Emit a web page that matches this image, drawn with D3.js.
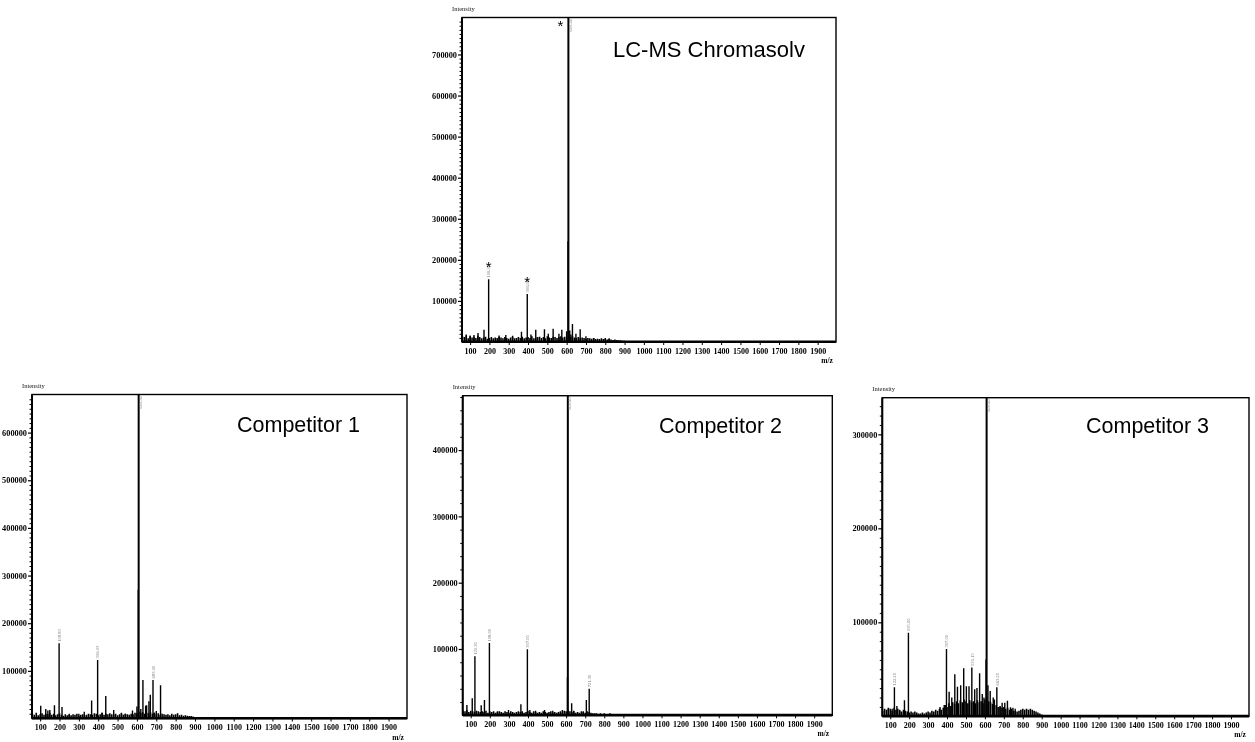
<!DOCTYPE html>
<html><head><meta charset="utf-8">
<script src="https://cdn.jsdelivr.net/npm/d3@7"></script>
<style>body{margin:0;background:#fff} #chart{filter:grayscale(1)}</style>
</head><body>
<svg id="chart" width="1255" height="742"></svg>
<script>
// ---------------- DATA ----------------
const mzDomain = [58, 1995];
const xTickValues = [100,200,300,400,500,600,700,800,900,1000,1100,1200,1300,1400,1500,1600,1700,1800,1900];
const noiseMz = d3.range(60, 901, 10); // sampling grid of the noise band

const titles = ["LC-MS Chromasolv", "Competitor 1", "Competitor 2", "Competitor 3"];
const yMaxes = [790000, 680000, 482000, 339000];
const yMajorTicks = [
  [100000,200000,300000,400000,500000,600000,700000],
  [100000,200000,300000,400000,500000,600000],
  [100000,200000,300000,400000],
  [100000,200000,300000]
];
const yMinorSteps = [10000, 10000, 20000, 10000];

// peaks: [m/z, intensity]
const chromasolvPeaks = [[609,800000],[607,245000],[196,153000],[396,117000],[630,44000],[616,28000],
  [440,30000],[485,31000],[530,32000],[575,30000],[670,31000],[366,25000],[141,22000],[172,30000],
  [285,17000],[600,26000],[622,18000],[648,20000],[700,14000],[560,20000],[505,20000],[415,18000],
  [80,18000],[100,16000],[120,17000],[250,16000],[320,15000],[740,10000],[800,10000],[820,9000]];
const competitor1Peaks = [[609,700000],[607,270000],[198,158000],[397,123000],[631,81000],[683,81000],
  [722,70000],[669,50000],[662,36000],[645,27000],[650,28000],[439,47000],[366,38000],[103,27000],
  [129,20000],[150,18000],[174,28000],[213,24000],[480,18000],[577,17000],[328,14000],[600,25000],
  [620,20000],[700,16000],[690,12000],[140,17000],[250,10000],[300,10000],[420,12000],[520,12000],[540,10000]];
const competitor2Peaks = [[609,500000],[607,57000],[122,89000],[198,109000],[397,99500],[721,40000],
  [706,23000],[108,25600],[80,15500],[172,23000],[155,15000],[363,16500],[298,8000],[629,18000],
  [487,8000],[440,7000],[530,7000],[580,8000],[640,7000],[690,6000],[410,8000],[240,6000]];
const competitor3Peaks = [[609,350000],[606,60500],[122,31000],[196,89000],[397,71500],[531,52000],
  [663,31000],[441,44700],[455,31500],[472,33000],[488,51000],[502,32000],[516,32000],[546,28700],
  [558,30000],[572,45700],[586,23700],[616,33000],[628,27000],[644,20000],[691,14500],[705,14500],
  [719,16500],[735,9500],[748,9000],[411,26000],[385,12000],[363,10000],[175,17000],[135,11000],
  [90,8000],[110,8000],[150,7000],[425,20000],[595,20000],[650,18000],[680,10000],[760,8000]];

// noise band heights (thousands) on the noiseMz grid 60..900
const chromasolvNoise = [15,12,16,9,14,11,13,10,15,12, 9,11,13,8,10,12,9,11,10,13, 11,9,12,10,8,11,13,9,10,12,
  10,13,9,11,12,10,14,9,11,12, 13,10,12,9,14,11,10,13,12,10, 12,14,11,13,10,15,12,14,11,10,
  12,9,11,10,8,10,9,8,10,7, 8,7,9,7,8,6,7,6,5,6, 5,4,4,3,3];
const competitor1Noise = [10,8,12,7,9,11,8,10,9,12, 8,10,7,9,11,8,6,9,7,8, 7,9,8,10,6,8,9,7,8,10,
  9,8,11,10,7,9,12,8,10,9, 11,9,8,10,7,9,11,8,10,9, 8,10,9,12,11,14,12,13,10,12,
  11,13,10,12,9,11,8,10,9,8, 9,7,10,8,9,11,7,8,6,7, 6,5,5,4,3];
const competitor2Noise = [7,6,8,5,7,6,5,7,6,5, 6,5,7,4,6,5,6,4,5,6, 5,4,6,5,4,6,5,4,5,6,
  5,6,4,5,7,5,4,6,5,4, 5,4,6,5,4,5,6,4,5,4, 5,6,4,7,6,8,6,5,6,4,
  5,4,6,5,4,6,5,4,3,3, 3,2,3,2,3,2,2,3,2,2, 2,2,2,2,2];
const competitor3Noise = [6,8,7,9,8,6,9,7,8,6, 5,7,6,5,4,5,4,5,4,3, 3,4,3,4,5,4,6,5,7,6,
  8,7,9,12,10,14,11,15,13,16, 14,17,15,18,16,14,17,15,16,14, 17,15,16,14,18,20,16,15,13,12,
  12,10,11,9,10,8,9,7,8,6, 6,5,6,7,8,7,8,7,8,7, 6,5,4,3,2];

// peak annotations: [m/z, text]
const chromasolvLabels = [[196,"196.90"],[396,"396.98"],[609,"609.40"]];
const competitor1Labels = [[198,"198.83"],[397,"396.93"],[683,"683.10"],[609,"609.40"]];
const competitor2Labels = [[122,"121.30"],[198,"198.00"],[397,"397.00"],[721,"721.30"],[609,"609.40"]];
const competitor3Labels = [[122,"122.20"],[196,"195.00"],[397,"397.00"],[531,"531.15"],[663,"663.20"],[609,"609.40"]];
const chromasolvStars = [196, 396, 609];

// ---------------- LAYOUT ----------------
const frames = [
  {L:462, T:17.5, R:836, B:342, tx:613, ty:57, fs:22},
  {L:32, T:394.5, R:407, B:718.5, tx:237, ty:432, fs:21.5},
  {L:462.7, T:395.7, R:832.3, B:715.3, tx:659, ty:433, fs:21.5},
  {L:882.3, T:397.7, R:1249, B:716.3, tx:1086, ty:433, fs:21.5}
];
const allPeaks = [chromasolvPeaks, competitor1Peaks, competitor2Peaks, competitor3Peaks];
const allNoise = [chromasolvNoise, competitor1Noise, competitor2Noise, competitor3Noise];
const allLabels = [chromasolvLabels, competitor1Labels, competitor2Labels, competitor3Labels];
const allStars = [chromasolvStars, [], [], []];

const svg = d3.select("#chart");
svg.append("rect").attr("width",1255).attr("height",742).attr("fill","#fff");

frames.forEach((f, i) => {
  const yMax = yMaxes[i];
  const x = d3.scaleLinear().domain(mzDomain).range([f.L, f.R]);
  const y = d3.scaleLinear().domain([0, yMax]).range([f.B, f.T]);
  const g = svg.append("g");
  const clipId = "clip" + i;
  g.append("clipPath").attr("id", clipId).append("rect")
    .attr("x", f.L).attr("y", f.T).attr("width", f.R - f.L).attr("height", f.B - f.T);
  const plot = g.append("g").attr("clip-path", `url(#${clipId})`);

  // noise band
  plot.selectAll("line.noise").data(allNoise[i]).join("line").attr("class","noise")
    .attr("x1", (d, k) => x(noiseMz[k])).attr("x2", (d, k) => x(noiseMz[k]))
    .attr("y1", y(0)).attr("y2", d => y(d * 1000))
    .attr("stroke", "#000").attr("stroke-width", 1.6);
  // noise tail hugging the baseline
  plot.append("line").attr("x1", x(60)).attr("x2", x(1995)).attr("y1", y(0) - 1).attr("y2", y(0) - 1)
    .attr("stroke","#000").attr("stroke-width",1.2);

  // peaks
  plot.selectAll("line.peak").data(allPeaks[i]).join("line").attr("class","peak")
    .attr("x1", d => x(d[0])).attr("x2", d => x(d[0]))
    .attr("y1", y(0)).attr("y2", d => y(d[1]))
    .attr("stroke", "#000").attr("stroke-width", d => d[1] >= yMax ? 2 : 1.4);

  // annotations
  allLabels[i].forEach(([mz, txt]) => {
    const pk = allPeaks[i].find(p => p[0] === mz);
    const px = x(mz);
    if (pk[1] >= yMax) {
      g.append("text").attr("transform", `translate(${px + 3.2},${f.T + 1.5}) rotate(-90)`)
        .attr("text-anchor","end").attr("font-family","Liberation Serif").attr("font-size", 4.6)
        .attr("fill","#777").text(txt);
    } else {
      g.append("text").attr("transform", `translate(${px + 1.7},${y(pk[1]) - 1.5}) rotate(-90)`)
        .attr("text-anchor","start").attr("font-family","Liberation Serif").attr("font-size", 4.6)
        .attr("fill","#777").text(txt);
    }
  });
  allStars[i].forEach(mz => {
    const pk = allPeaks[i].find(p => p[0] === mz);
    const px = x(mz);
    let sx = px, sy = y(pk[1]) - 16;
    if (pk[1] >= yMax) { sx = px - 8; sy = f.T + 4; }
    g.append("text").attr("x", sx).attr("y", sy + 9).attr("text-anchor","middle")
      .attr("font-family","Liberation Sans").attr("font-size", 15).attr("fill","#000").text("*");
  });

  // y axis
  const yAx = g.append("g").attr("transform", `translate(${f.L},0)`)
    .call(d3.axisLeft(y).tickValues(yMajorTicks[i]).tickSize(4).tickPadding(1).tickFormat(d3.format("d")));
  yAx.select(".domain").remove();
  yAx.selectAll("line").attr("stroke-width", 1.2);
  yAx.selectAll("text").attr("font-family","Liberation Serif").attr("font-weight","bold")
    .attr("font-size", 8.3).attr("fill","#000");
  const minor = d3.range(yMinorSteps[i], yMax, yMinorSteps[i]).filter(v => v % 100000 !== 0);
  const yMin = g.append("g").attr("transform", `translate(${f.L},0)`)
    .call(d3.axisLeft(y).tickValues(minor).tickSize(2.5).tickFormat(""));
  yMin.select(".domain").remove();
  yMin.selectAll("line").attr("stroke-width", 1);

  // x axis
  const xAx = g.append("g").attr("transform", `translate(0,${f.B})`)
    .call(d3.axisBottom(x).tickValues(xTickValues).tickSize(3).tickPadding(3).tickFormat(d3.format("d")));
  xAx.select(".domain").remove();
  xAx.selectAll("line").attr("stroke-width", 1);
  xAx.selectAll("text").attr("font-family","Liberation Serif").attr("font-weight","bold")
    .attr("font-size", 8).attr("fill","#000");

  // frame
  g.append("rect").attr("x", f.L).attr("y", f.T).attr("width", f.R - f.L).attr("height", f.B - f.T)
    .attr("fill","none").attr("stroke","#000").attr("stroke-width", 1.4);
  g.append("line").attr("x1", f.L).attr("x2", f.L).attr("y1", f.T).attr("y2", f.B)
    .attr("stroke","#000").attr("stroke-width", 2);
  g.append("line").attr("x1", f.L).attr("x2", f.R).attr("y1", f.B).attr("y2", f.B)
    .attr("stroke","#000").attr("stroke-width", 2.2);

  // labels
  g.append("text").attr("x", f.L - 10).attr("y", f.T - 7).attr("font-family","Liberation Serif")
    .attr("font-size", 6.5).attr("fill","#222").text("Intensity");
  g.append("text").attr("x", f.R - 9).attr("y", f.B + 21).attr("text-anchor","middle")
    .attr("font-family","Liberation Serif").attr("font-weight","bold").attr("font-size", 7.5)
    .attr("fill","#000").text("m/z");
  g.append("text").attr("x", f.tx).attr("y", f.ty).attr("font-family","Liberation Sans")
    .attr("font-size", f.fs).attr("fill","#000").text(titles[i]);
});
</script>
</body></html>
